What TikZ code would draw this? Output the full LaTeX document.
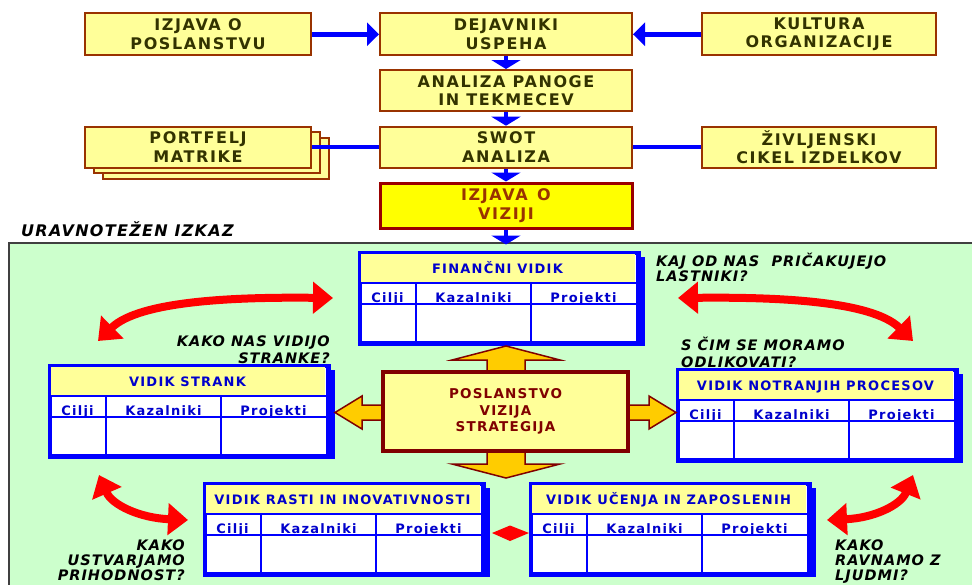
\documentclass[tikz,border=0pt]{standalone}
\usepackage{fontspec}
\setmainfont{DejaVu Sans}
\newfontfamily\boxfont{DejaVu Sans}[LetterSpace=10]
\newfontfamily\tabfont{DejaVu Sans}[LetterSpace=9.5]
\newfontfamily\corefont{DejaVu Sans}[LetterSpace=9]
\newfontfamily\qfont{DejaVu Sans}[LetterSpace=7]
\newfontfamily\titlefont{DejaVu Sans}[LetterSpace=8]
\usetikzlibrary{arrows.meta,calc}

\definecolor{boxfill}{HTML}{FFFF99}
\definecolor{boxedge}{HTML}{993300}
\definecolor{boxtext}{HTML}{333300}
\definecolor{visfill}{HTML}{FFFF00}
\definecolor{visedge}{HTML}{990000}
\definecolor{vistext}{HTML}{993300}
\definecolor{pane}{HTML}{CCFFCC}
\definecolor{paneedge}{HTML}{404040}
\definecolor{linkblue}{HTML}{0000FF}
\definecolor{tabblue}{HTML}{0000FF}
\definecolor{tabtext}{HTML}{0000CC}
\definecolor{corered}{HTML}{800000}
\definecolor{coreorange}{HTML}{FFCC00}
\definecolor{swing}{HTML}{FF0000}

\tikzset{
  topbox/.style={draw=boxedge, line width=2pt, fill=boxfill, text=boxtext,
    inner sep=0pt, align=center, minimum height=42pt,
    font=\boxfont\bfseries\fontsize{16}{18.5}\selectfont},
  visbox/.style={topbox, fill=visfill, draw=visedge, line width=3pt,
    text=vistext, minimum height=45pt, minimum width=252pt},
  bluelink/.style={draw=linkblue, line width=4.5pt},
  sidehead/.style={arrows={-Triangle[length=12pt,width=23pt]}},
  downhead/.style={arrows={-Triangle[length=9pt,width=29pt]}},
  tabframe/.style={draw=tabblue, line width=3pt, fill=white, inner sep=0pt,
    minimum width=277pt, minimum height=89pt},
  tabrule/.style={draw=tabblue, line width=2.5pt},
  tabhead/.style={anchor=base, inner sep=0pt, text=tabtext,
    font=\tabfont\bfseries\fontsize{13}{15}\selectfont},
  tabcol/.style={tabhead},
  corebox/.style={draw=corered, line width=3.5pt, fill=boxfill, text=corered,
    inner sep=0pt, align=center, minimum width=245pt, minimum height=79pt,
    font=\corefont\bfseries\fontsize{13.5}{16.7}\selectfont},
  corearrow/.style={fill=coreorange, draw=corered, line width=1.5pt, line join=miter},
  swingarrow/.style={draw=swing, line width=8pt,
    arrows={Triangle[length=20pt,width=31pt]-Triangle[length=20pt,width=31pt]}},
  qlabel/.style={inner sep=0pt, text=black,
    font=\qfont\bfseries\itshape\fontsize{14.5}{16}\selectfont},
}

% one perspective table: name, left, top, title
\newcommand\bsctable[4]{%
  \fill[tabblue] (#2+9,#3+5) rectangle (#2+286,#3+94);
  \node[tabframe, anchor=north west] (#1) at (#2,#3) {};
  \fill[boxfill] (#2+1,#3+1) rectangle (#2+276,#3+31);
  \node[tabhead] (#1-title) at (#2+138.5,#3+21.5) {#4};
  \node[tabcol] (#1-goals) at (#2+28.5,#3+50) {Cilji};
  \node[tabcol] (#1-kpi) at (#2+114.5,#3+50) {Kazalniki};
  \node[tabcol] (#1-proj) at (#2+224.5,#3+50) {Projekti};
  \draw[tabrule] (#2,#3+31) -- (#2+277,#3+31)
                 (#2,#3+52) -- (#2+277,#3+52)
                 (#2+57,#3+31) -- (#2+57,#3+89)
                 (#2+172,#3+31) -- (#2+172,#3+89);
  \draw[tabrule, line width=3pt] (#1.north west) rectangle (#1.south east);
}

\begin{document}
\begin{tikzpicture}[x=1pt,y=-1pt]
\useasboundingbox (0,0) rectangle (972,584);

% ---- strategy formulation chain ----
\node[topbox, minimum width=226pt] (mission) at (198,34.3) {IZJAVA O\\POSLANSTVU};
\node[topbox, minimum width=252pt] (factors) at (506,34.3) {DEJAVNIKI\\USPEHA};
\node[topbox, minimum width=234pt] (culture) at (819,34.3) {KULTURA\\ORGANIZACIJE};
\node[topbox, minimum width=252pt, minimum height=41pt] (industry) at (506,90.5) {ANALIZA PANOGE\\IN TEKMECEV};
\node[topbox, minimum width=226pt, minimum height=41pt] (pfback) at (216,158) {};
\node[topbox, minimum width=226pt, minimum height=41pt] (pfmid) at (207,152.5) {};
\node[topbox, minimum width=226pt, minimum height=41pt] (portfolio) at (198,147.2) {PORTFELJ\\MATRIKE};
\node[topbox, minimum width=252pt, minimum height=41pt] (swot) at (506,147.2) {SWOT\\ANALIZA};
\node[topbox, minimum width=234pt, minimum height=41pt] (lifecycle) at (819,147.2) {ŽIVLJENSKI\\CIKEL IZDELKOV};
\node[visbox] (vision) at (506,205.5) {IZJAVA\hspace{0.6em}O\\VIZIJI};
\coordinate (paneentry) at (506,244.5);

\draw[bluelink, sidehead] (mission.east) -- (factors.west);
\draw[bluelink, sidehead] (culture.west) -- (factors.east);
\draw[bluelink] (portfolio.east) -- (swot.west);
\draw[bluelink] (lifecycle.west) -- (swot.east);
\draw[bluelink, downhead] (factors.south) -- (industry.north);
\draw[bluelink, downhead] (industry.south) -- (swot.north);
\draw[bluelink, downhead] (swot.south) -- (vision.north);

% ---- balanced scorecard pane ----
\node[anchor=base west, inner sep=0pt, text=black,
  font=\titlefont\bfseries\itshape\fontsize{16}{18}\selectfont] (bsctitle) at (21,236.7) {URAVNOTEŽEN IZKAZ};
\fill[pane, draw=paneedge, line width=1.2pt] (9,243) rectangle (990,600);
\draw[bluelink, downhead] (vision.south) -- (paneentry);

% questions
\node[qlabel, anchor=base east] (custA) at (330,346) {KAKO NAS VIDIJO};
\node[qlabel, anchor=base east] (custB) at (330,363.3) {STRANKE?};
\node[qlabel, anchor=base west] (ownA) at (656,266.7) {KAJ OD NAS\ \ PRIČAKUJEJO};
\node[qlabel, anchor=base west] (ownB) at (656,281.7) {LASTNIKI?};
\node[qlabel, anchor=base west] (intA) at (681,350) {S ČIM SE MORAMO};
\node[qlabel, anchor=base west] (intB) at (681,367.7) {ODLIKOVATI?};
\node[qlabel, anchor=base east] (growA) at (185,550) {KAKO};
\node[qlabel, anchor=base east] (growB) at (185,565.5) {USTVARJAMO};
\node[qlabel, anchor=base east] (growC) at (185,580.5) {PRIHODNOST?};
\node[qlabel, anchor=base west] (peopA) at (835,550) {KAKO};
\node[qlabel, anchor=base west] (peopB) at (835,565.5) {RAVNAMO Z};
\node[qlabel, anchor=base west] (peopC) at (835,580.5) {LJUDMI?};

% curved two-way arrows
\draw[swingarrow] (98,341) .. controls (140,300) and (240,297) .. (333,298);
\draw[swingarrow] (678,298) .. controls (771,297) and (871,300) .. (913,341);
\draw[swingarrow] (99,475) .. controls (112,505) and (140,518) .. (188,520);
\draw[swingarrow] (827,520) .. controls (874,518) and (901,505) .. (913,475);

% four perspectives
\bsctable{finance}{359}{252}{FINANČNI VIDIK}
\bsctable{customer}{49}{365}{VIDIK STRANK}
\bsctable{process}{677}{369}{VIDIK NOTRANJIH PROCESOV}
\bsctable{growth}{204}{483}{VIDIK RASTI IN INOVATIVNOSTI}
\bsctable{learning}{530}{483}{VIDIK UČENJA IN ZAPOSLENIH}
\fill[swing] (492,533) -- (510,525.5) -- (529,533) -- (510,541) -- cycle;

% core statement with its four arrows
\filldraw[corearrow] (487,375) -- (487,360) -- (452,360) -- (506,346) -- (560,360) -- (525,360) -- (525,375);
\filldraw[corearrow] (487,448) -- (487,464) -- (452,464) -- (506,478) -- (560,464) -- (525,464) -- (525,448);
\filldraw[corearrow] (386,405) -- (362,405) -- (362,396) -- (335,412.5) -- (362,429) -- (362,420) -- (386,420);
\filldraw[corearrow] (625,405) -- (649,405) -- (649,396) -- (676,412.5) -- (649,429) -- (649,420) -- (625,420);
\node[corebox] (core) at (505.5,411.5) {POSLANSTVO\\VIZIJA\\STRATEGIJA};
\end{tikzpicture}
\end{document}
